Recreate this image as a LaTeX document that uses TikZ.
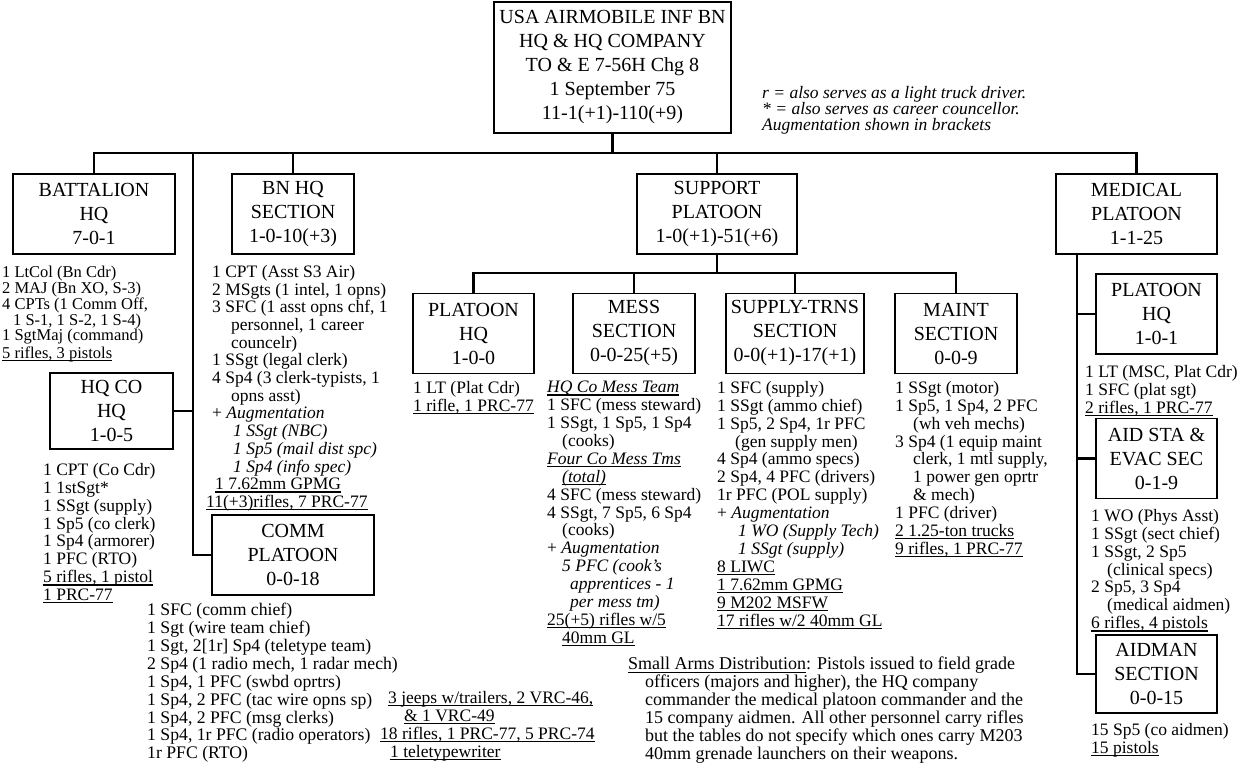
\documentclass[tikz,border=0pt]{standalone}
\usepackage{fontspec}
\setmainfont{Liberation Serif}
\usetikzlibrary{positioning}
\newsavebox{\ulbox}
\newcommand{\ulin}[1]{\sbox{\ulbox}{#1}\rlap{\rule[-2.8pt]{\wd\ulbox}{1.1pt}}\usebox{\ulbox}}

\begin{document}
\begin{tikzpicture}[x=1pt, y=-1pt,
		unit/.style={draw, line width=1.6pt, align=center, inner sep=0pt, minimum height=80pt, font=\fontsize{20}{24}\selectfont},
		roster/.style={anchor=north west, align=left, inner sep=0pt, font=\fontsize{17.5}{17.9}\selectfont},
		link/.style={line width=2.2pt}]
		\useasboundingbox (0,0) rectangle (1251,763);
		% company and first level
		\node[unit, minimum width=237pt, minimum height=131pt] (top) at (612.5,67.5) {USA AIRMOBILE INF BN\\HQ \& HQ COMPANY\\TO \& E 7-56H Chg 8\\1 September 75\\11-1(+1)-110(+9)};
		\node[unit, minimum width=162pt] (batt) at (94,214) {BATTALION\\HQ\\7-0-1};
		\node[unit, minimum width=122pt] (bnsec) at (293,214) {BN HQ\\SECTION\\1-0-10(+3)};
		\node[unit, minimum width=160pt] (support) at (717,214) {SUPPORT\\PLATOON\\1-0(+1)-51(+6)};
		\node[unit, minimum width=161pt] (medical) at (1136.5,214) {MEDICAL\\PLATOON\\1-1-25};
		\node[unit, minimum width=123pt, minimum height=76pt] (hqco) at (111.5,411) {HQ CO\\HQ\\1-0-5};
		\node[unit, minimum width=162pt] (comm) at (293,555) {COMM\\PLATOON\\0-0-18};
		% support platoon
		\node[unit, minimum width=121pt] (plthq) at (473.5,333.5) {PLATOON\\HQ\\1-0-0};
		\node[unit, minimum width=122pt] (mess) at (634,333.5) {MESS\\SECTION\\0-0-25(+5)};
		\node[unit, minimum width=138pt] (supply) at (795,333.5) {SUPPLY-TRNS\\SECTION\\0-0(+1)-17(+1)};
		\node[unit, minimum width=122pt] (maint) at (956,333.5) {MAINT\\SECTION\\0-0-9};
		% medical platoon
		\node[unit, minimum width=121pt] (medhq) at (1156.5,314) {PLATOON\\HQ\\1-0-1};
		\node[unit, minimum width=121pt] (aidsta) at (1156.5,458.5) {AID STA \&\\EVAC SEC\\0-1-9};
		\node[unit, minimum width=121pt, minimum height=78pt] (aidman) at (1156.5,674) {AIDMAN\\SECTION\\0-0-15};

		\coordinate (bus) at (612.5,153);
		\coordinate (trunk) at (193,153);
		\coordinate (sbus) at (717,273);
		\coordinate (mspine) at (1077,254);
		\draw[link] (top.south) -- (bus);
		\draw[link] (batt.north) |- (bus) -| (medical.north);
		\draw[link] (bnsec.north) -- (bnsec.north |- bus);
		\draw[link] (support.north) -- (support.north |- bus);
		\draw[link] (trunk) |- (comm.west);
		\draw[link] (hqco.east) -- (hqco.east -| trunk);
		\draw[link] (support.south) -- (sbus);
		\draw[link] (plthq.north) |- (sbus) -| (maint.north);
		\draw[link] (mess.north) -- (mess.north |- sbus);
		\draw[link] (supply.north) -- (supply.north |- sbus);
		\draw[link] (mspine) |- (aidman.west);
		\draw[link] (medhq.west) -- (medhq.west -| mspine);
		\draw[link] (aidsta.west) -- (aidsta.west -| mspine);

		% personnel lists
		\node[roster, font=\fontsize{16.5}{15.8}\selectfont] (battlist) at (2,266) {1 LtCol (Bn Cdr)\\2 MAJ (Bn XO, S-3)\\4 CPTs (1 Comm Off,\\\hspace*{11pt}1 S-1, 1 S-2, 1 S-4)\\1 SgtMaj (command)\\[2pt]\ulin{5 rifles, 3 pistols}};
		\node[roster] (hqcolist) at (43,463) {1 CPT (Co Cdr)\\1 1stSgt*\\1 SSgt (supply)\\1 Sp5 (co clerk)\\1 Sp4 (armorer)\\1 PFC (RTO)\\\ulin{5 rifles, 1 pistol}\\\ulin{1 PRC-77}};
		\node[roster, font=\fontsize{17.5}{17.7}\selectfont] (bnseclist) at (212,265) {1 CPT (Asst S3 Air)\\2 MSgts (1 intel, 1 opns)\\3 SFC (1 asst opns chf, 1\\\hspace*{19pt}personnel, 1 career\\\hspace*{19pt}councelr)\\1 SSgt (legal clerk)\\4 Sp4 (3 clerk-typists, 1\\\hspace*{19pt}opns asst)\\+ \textit{Augmentation}\\\hspace*{21pt}\textit{1 SSgt (NBC)}\\\hspace*{21pt}\textit{1 Sp5 (mail dist spc)}\\\hspace*{21pt}\textit{1 Sp4 (info spec)}\\\hspace*{3pt}\ulin{1 7.62mm GPMG}\\\hspace*{-6pt}\ulin{11(+3)rifles, 7 PRC-77}};
		\node[roster, font=\fontsize{17.7}{17.9}\selectfont] (commlist) at (147,603) {1 SFC (comm chief)\\1 Sgt (wire team chief)\\1 Sgt, 2[1r] Sp4 (teletype team)\\2 Sp4 (1 radio mech, 1 radar mech)\\1 Sp4, 1 PFC (swbd oprtrs)\\1 Sp4, 2 PFC (tac wire opns sp)\\1 Sp4, 2 PFC (msg clerks)\\1 Sp4, 1r PFC (radio operators)\\1r PFC (RTO)};
		\node[roster] (commgear) at (380,691) {\hspace*{8pt}\ulin{3 jeeps w/trailers, 2 VRC-46,}\\\hspace*{24pt}\ulin{\& 1 VRC-49}\\\ulin{18 rifles, 1 PRC-77, 5 PRC-74}\\\hspace*{10pt}\ulin{1 teletypewriter}};
		\node[roster] (plthqlist) at (413,381) {1 LT (Plat Cdr)\\\ulin{1 rifle, 1 PRC-77}};
		\node[roster] (messlist) at (547,381) {\ulin{\textit{HQ Co Mess Team}}\\1 SFC (mess steward)\\1 SSgt, 1 Sp5, 1 Sp4\\\hspace*{15pt}(cooks)\\\ulin{\textit{Four Co Mess Tms}}\\\hspace*{15pt}\ulin{\textit{(total)}}\\4 SFC (mess steward)\\4 SSgt, 7 Sp5, 6 Sp4\\\hspace*{15pt}(cooks)\\+ \textit{Augmentation}\\\hspace*{15pt}\textit{5 PFC (cook's}\\\hspace*{23pt}\textit{apprentices - 1}\\\hspace*{23pt}\textit{per mess tm)}\\\ulin{25(+5) rifles w/5}\\\hspace*{15pt}\ulin{40mm GL}};
		\node[roster] (supplylist) at (717,381) {1 SFC (supply)\\1 SSgt (ammo chief)\\1 Sp5, 2 Sp4, 1r PFC\\\hspace*{18pt}(gen supply men)\\4 Sp4 (ammo specs)\\2 Sp4, 4 PFC (drivers)\\1r PFC (POL supply)\\+ \textit{Augmentation}\\\hspace*{21pt}\textit{1 WO (Supply Tech)}\\\hspace*{21pt}\textit{1 SSgt (supply)}\\\ulin{8 LIWC}\\\ulin{1 7.62mm GPMG}\\\ulin{9 M202 MSFW}\\\ulin{17 rifles w/2 40mm GL}};
		\node[roster] (maintlist) at (895,381) {1 SSgt (motor)\\1 Sp5, 1 Sp4, 2 PFC\\\hspace*{18pt}(wh veh mechs)\\3 Sp4 (1 equip maint\\\hspace*{18pt}clerk, 1 mtl supply,\\\hspace*{18pt}1 power gen oprtr\\\hspace*{18pt}\& mech)\\1 PFC (driver)\\\ulin{2 1.25-ton trucks}\\\ulin{9 rifles, 1 PRC-77}};
		\node[roster] (medhqlist) at (1085,365) {1 LT (MSC, Plat Cdr)\\1 SFC (plat sgt)\\\ulin{2 rifles, 1 PRC-77}};
		\node[roster] (aidstalist) at (1091,509) {1 WO (Phys Asst)\\1 SSgt (sect chief)\\1 SSgt, 2 Sp5\\\hspace*{16pt}(clinical specs)\\2 Sp5, 3 Sp4\\\hspace*{16pt}(medical aidmen)\\\ulin{6 rifles, 4 pistols}};
		\node[roster] (aidmanlist) at (1091,723) {15 Sp5 (co aidmen)\\\ulin{15 pistols}};

		% notes
		\node[roster, font=\fontsize{17.5}{16}\selectfont\itshape] (legend) at (762,86) {r = also serves as a light truck driver.\\* = also serves as career councellor.\\Augmentation shown in brackets};
		\node[roster, font=\fontsize{18}{17.9}\selectfont] (arms) at (628,657) {\ulin{Small Arms Distribution}: Pistols issued to field grade\\\hspace*{17pt}officers (majors and higher), the HQ company\\\hspace*{17pt}commander the medical platoon commander and the\\\hspace*{17pt}15 company aidmen. All other personnel carry rifles\\\hspace*{17pt}but the tables do not specify which ones carry M203\\\hspace*{17pt}40mm grenade launchers on their weapons.};
	\end{tikzpicture}
\end{document}
